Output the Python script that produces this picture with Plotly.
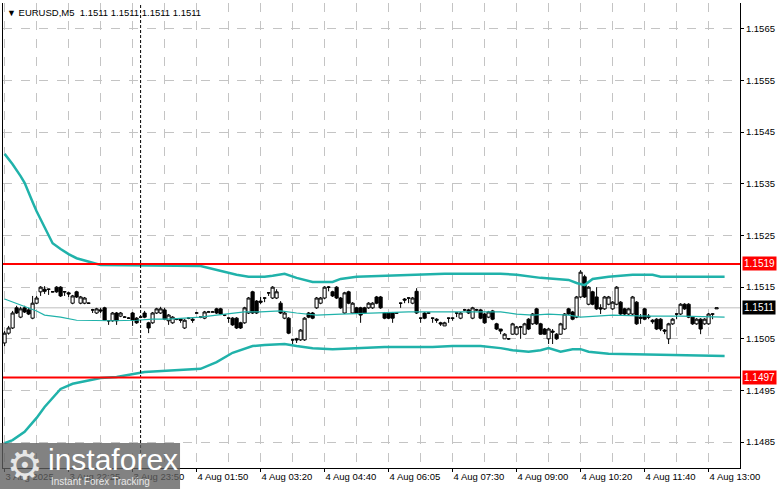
import plotly.graph_objects as go

# EURUSD M5 bars (one bar per 5 minutes)
bar_open = [
    1.15042, 1.15061, 1.15071, 1.15110, 1.15092, 1.15110, 1.15106, 1.15090, 1.15119, 1.15141,
    1.15146, 1.15146, 1.15141, 1.15150, 1.15150, 1.15141, 1.15139, 1.15119, 1.15141, 1.15119,
    1.15119, 1.15119, 1.15106, 1.15100, 1.15106, 1.15110, 1.15085, 1.15085, 1.15100, 1.15094,
    1.15092, 1.15090, 1.15100, 1.15090, 1.15092, 1.15100, 1.15081, 1.15081, 1.15100, 1.15100,
    1.15106, 1.15085, 1.15081, 1.15088, 1.15088, 1.15071, 1.15090, 1.15088, 1.15100, 1.15092,
    1.15090, 1.15102, 1.15102, 1.15108, 1.15108, 1.15096, 1.15090, 1.15090, 1.15090, 1.15081,
    1.15081, 1.15100, 1.15141, 1.15123, 1.15123, 1.15129, 1.15139, 1.15129, 1.15129, 1.15119,
    1.15090, 1.15090, 1.15048, 1.15050, 1.15048, 1.15048, 1.15100, 1.15100, 1.15110, 1.15119,
    1.15129, 1.15150, 1.15141, 1.15150, 1.15129, 1.15100, 1.15141, 1.15100, 1.15110, 1.15110,
    1.15110, 1.15110, 1.15110, 1.15131, 1.15131, 1.15100, 1.15100, 1.15100, 1.15100, 1.15119,
    1.15127, 1.15129, 1.15119, 1.15142, 1.15090, 1.15100, 1.15100, 1.15090, 1.15088, 1.15081,
    1.15075, 1.15090, 1.15090, 1.15100, 1.15090, 1.15106, 1.15106, 1.15090, 1.15106, 1.15106,
    1.15098, 1.15092, 1.15104, 1.15079, 1.15069, 1.15050, 1.15050, 1.15059, 1.15059, 1.15073,
    1.15059, 1.15088, 1.15079, 1.15108, 1.15079, 1.15069, 1.15050, 1.15065, 1.15059, 1.15059,
    1.15069, 1.15108, 1.15102, 1.15092, 1.15131, 1.15170, 1.15117, 1.15141, 1.15131, 1.15110,
    1.15108, 1.15117, 1.15108, 1.15117, 1.15121, 1.15108, 1.15098, 1.15098, 1.15121, 1.15092,
    1.15108, 1.15094, 1.15086, 1.15088, 1.15088, 1.15067, 1.15050, 1.15079, 1.15098, 1.15098,
    1.15117, 1.15117, 1.15092, 1.15079, 1.15088, 1.15079, 1.15079, 1.15098, 1.15108,
]
bar_high = [
    1.15065, 1.15075, 1.15104, 1.15114, 1.15112, 1.15114, 1.15110, 1.15133, 1.15133, 1.15152,
    1.15152, 1.15147, 1.15142, 1.15152, 1.15152, 1.15142, 1.15141, 1.15135, 1.15143, 1.15133,
    1.15131, 1.15120, 1.15108, 1.15110, 1.15110, 1.15112, 1.15086, 1.15102, 1.15102, 1.15102,
    1.15094, 1.15092, 1.15102, 1.15092, 1.15094, 1.15104, 1.15083, 1.15102, 1.15110, 1.15112,
    1.15110, 1.15098, 1.15094, 1.15090, 1.15090, 1.15088, 1.15092, 1.15090, 1.15102, 1.15092,
    1.15104, 1.15104, 1.15104, 1.15110, 1.15110, 1.15098, 1.15091, 1.15092, 1.15092, 1.15083,
    1.15112, 1.15131, 1.15143, 1.15125, 1.15131, 1.15130, 1.15140, 1.15152, 1.15146, 1.15123,
    1.15102, 1.15092, 1.15050, 1.15052, 1.15069, 1.15092, 1.15102, 1.15102, 1.15131, 1.15131,
    1.15152, 1.15152, 1.15143, 1.15152, 1.15131, 1.15141, 1.15143, 1.15121, 1.15112, 1.15112,
    1.15112, 1.15121, 1.15121, 1.15133, 1.15133, 1.15102, 1.15102, 1.15102, 1.15101, 1.15120,
    1.15129, 1.15130, 1.15131, 1.15148, 1.15091, 1.15102, 1.15101, 1.15091, 1.15090, 1.15083,
    1.15083, 1.15091, 1.15091, 1.15101, 1.15102, 1.15108, 1.15108, 1.15112, 1.15108, 1.15108,
    1.15100, 1.15104, 1.15106, 1.15081, 1.15069, 1.15061, 1.15050, 1.15081, 1.15075, 1.15075,
    1.15081, 1.15090, 1.15100, 1.15110, 1.15081, 1.15071, 1.15071, 1.15069, 1.15061, 1.15081,
    1.15100, 1.15110, 1.15104, 1.15133, 1.15183, 1.15174, 1.15152, 1.15143, 1.15150, 1.15117,
    1.15133, 1.15133, 1.15123, 1.15152, 1.15123, 1.15110, 1.15110, 1.15133, 1.15123, 1.15098,
    1.15110, 1.15098, 1.15088, 1.15090, 1.15090, 1.15069, 1.15081, 1.15090, 1.15099, 1.15119,
    1.15119, 1.15119, 1.15094, 1.15090, 1.15090, 1.15090, 1.15100, 1.15099, 1.15110,
]
bar_low = [
    1.15036, 1.15058, 1.15069, 1.15098, 1.15090, 1.15100, 1.15096, 1.15088, 1.15117, 1.15133,
    1.15137, 1.15135, 1.15140, 1.15139, 1.15131, 1.15133, 1.15131, 1.15117, 1.15129, 1.15117,
    1.15117, 1.15118, 1.15100, 1.15098, 1.15100, 1.15085, 1.15077, 1.15083, 1.15077, 1.15092,
    1.15092, 1.15090, 1.15075, 1.15079, 1.15090, 1.15090, 1.15061, 1.15079, 1.15098, 1.15098,
    1.15086, 1.15077, 1.15079, 1.15086, 1.15081, 1.15069, 1.15088, 1.15081, 1.15100, 1.15090,
    1.15088, 1.15102, 1.15102, 1.15098, 1.15096, 1.15094, 1.15081, 1.15075, 1.15069, 1.15069,
    1.15079, 1.15098, 1.15098, 1.15098, 1.15117, 1.15121, 1.15133, 1.15127, 1.15127, 1.15098,
    1.15088, 1.15059, 1.15040, 1.15042, 1.15046, 1.15046, 1.15090, 1.15088, 1.15108, 1.15117,
    1.15127, 1.15142, 1.15131, 1.15127, 1.15108, 1.15098, 1.15117, 1.15098, 1.15098, 1.15081,
    1.15098, 1.15108, 1.15108, 1.15117, 1.15108, 1.15088, 1.15088, 1.15081, 1.15099, 1.15110,
    1.15119, 1.15119, 1.15117, 1.15098, 1.15081, 1.15088, 1.15099, 1.15081, 1.15081, 1.15075,
    1.15075, 1.15081, 1.15085, 1.15092, 1.15088, 1.15104, 1.15098, 1.15088, 1.15104, 1.15088,
    1.15079, 1.15090, 1.15086, 1.15067, 1.15059, 1.15050, 1.15048, 1.15058, 1.15058, 1.15050,
    1.15058, 1.15067, 1.15077, 1.15077, 1.15058, 1.15058, 1.15040, 1.15040, 1.15048, 1.15058,
    1.15067, 1.15096, 1.15086, 1.15090, 1.15129, 1.15129, 1.15115, 1.15115, 1.15106, 1.15098,
    1.15106, 1.15115, 1.15106, 1.15115, 1.15096, 1.15096, 1.15096, 1.15096, 1.15077, 1.15079,
    1.15086, 1.15088, 1.15079, 1.15067, 1.15065, 1.15059, 1.15040, 1.15077, 1.15088, 1.15096,
    1.15106, 1.15090, 1.15077, 1.15077, 1.15059, 1.15077, 1.15077, 1.15088, 1.15108,
]
bar_close = [
    1.15061, 1.15071, 1.15100, 1.15100, 1.15108, 1.15102, 1.15098, 1.15119, 1.15129, 1.15150,
    1.15142, 1.15146, 1.15141, 1.15141, 1.15133, 1.15141, 1.15137, 1.15133, 1.15131, 1.15131,
    1.15129, 1.15119, 1.15106, 1.15108, 1.15104, 1.15086, 1.15085, 1.15100, 1.15085, 1.15100,
    1.15092, 1.15090, 1.15086, 1.15081, 1.15092, 1.15092, 1.15071, 1.15100, 1.15108, 1.15108,
    1.15088, 1.15096, 1.15092, 1.15088, 1.15086, 1.15086, 1.15090, 1.15086, 1.15100, 1.15092,
    1.15102, 1.15102, 1.15102, 1.15100, 1.15098, 1.15096, 1.15090, 1.15077, 1.15071, 1.15071,
    1.15110, 1.15129, 1.15100, 1.15100, 1.15121, 1.15129, 1.15139, 1.15150, 1.15141, 1.15100,
    1.15100, 1.15061, 1.15048, 1.15048, 1.15067, 1.15090, 1.15092, 1.15090, 1.15129, 1.15129,
    1.15150, 1.15150, 1.15133, 1.15129, 1.15110, 1.15139, 1.15119, 1.15119, 1.15100, 1.15096,
    1.15100, 1.15119, 1.15119, 1.15119, 1.15110, 1.15090, 1.15090, 1.15090, 1.15100, 1.15119,
    1.15125, 1.15129, 1.15129, 1.15100, 1.15090, 1.15090, 1.15100, 1.15090, 1.15086, 1.15079,
    1.15081, 1.15090, 1.15090, 1.15100, 1.15100, 1.15106, 1.15100, 1.15110, 1.15106, 1.15090,
    1.15081, 1.15102, 1.15088, 1.15069, 1.15065, 1.15059, 1.15050, 1.15079, 1.15073, 1.15073,
    1.15079, 1.15069, 1.15098, 1.15079, 1.15059, 1.15059, 1.15069, 1.15063, 1.15050, 1.15079,
    1.15098, 1.15098, 1.15088, 1.15131, 1.15179, 1.15131, 1.15150, 1.15117, 1.15108, 1.15108,
    1.15131, 1.15131, 1.15121, 1.15150, 1.15098, 1.15098, 1.15108, 1.15131, 1.15079, 1.15090,
    1.15088, 1.15092, 1.15083, 1.15069, 1.15069, 1.15065, 1.15079, 1.15088, 1.15098, 1.15117,
    1.15108, 1.15092, 1.15079, 1.15088, 1.15069, 1.15088, 1.15098, 1.15098, 1.15110,
]
bar_index = list(range(len(bar_close)))

# Bollinger band lines, sampled at bar positions
upper_idx = [0, 2, 4, 5, 7, 8, 10, 12, 14, 16, 18, 21, 24, 49, 53, 58, 61, 65, 67, 70,
             73, 77, 82, 84, 88, 95, 102, 110, 124, 128, 134, 141, 143, 145, 147, 151,
             157, 162, 164, 180]
upper_band = [1.15408, 1.15388, 1.15365, 1.15352, 1.15315, 1.15297, 1.15266, 1.15235,
              1.15224, 1.15214, 1.15206, 1.15199, 1.15193, 1.15191, 1.15183, 1.15174,
              1.15170, 1.15170, 1.15172, 1.15176, 1.15168, 1.15160, 1.15160, 1.15166,
              1.15170, 1.15172, 1.15174, 1.15176, 1.15176, 1.15174, 1.15168, 1.15164,
              1.15158, 1.15154, 1.15166, 1.15170, 1.15174, 1.15174, 1.15170, 1.15170]
mid_idx = [0, 2, 5, 8, 10, 14, 18, 22, 27, 33, 37, 41, 46, 49, 53, 57, 60, 64, 69, 73,
           78, 84, 92, 101, 109, 118, 124, 128, 132, 136, 141, 144, 147, 152, 161, 169, 180]
mid_band = [1.15127, 1.15121, 1.15112, 1.15104, 1.15096, 1.15092, 1.15086, 1.15085,
            1.15085, 1.15086, 1.15088, 1.15088, 1.15090, 1.15092, 1.15096, 1.15100,
            1.15102, 1.15102, 1.15104, 1.15100, 1.15096, 1.15098, 1.15100, 1.15102,
            1.15102, 1.15102, 1.15102, 1.15098, 1.15096, 1.15098, 1.15096, 1.15092,
            1.15094, 1.15096, 1.15094, 1.15094, 1.15092]
lower_idx = [0, 2, 5, 8, 10, 12, 14, 17, 21, 24, 28, 33, 35, 49, 53, 57, 62, 65, 70, 73,
             77, 82, 87, 95, 107, 112, 119, 124, 127, 131, 134, 136, 139, 142, 144, 146,
             151, 166, 174, 180]
lower_band = [1.14848, 1.14854, 1.14870, 1.14897, 1.14918, 1.14935, 1.14953, 1.14963,
              1.14970, 1.14974, 1.14976, 1.14984, 1.14986, 1.14992, 1.15005, 1.15023,
              1.15036, 1.15038, 1.15040, 1.15036, 1.15032, 1.15030, 1.15032, 1.15034,
              1.15034, 1.15036, 1.15036, 1.15032, 1.15028, 1.15025, 1.15028, 1.15032,
              1.15025, 1.15030, 1.15030, 1.15025, 1.15021, 1.15019, 1.15017, 1.15017]

# levels and axis labels
resistance = 1.15195
support = 1.14975
level_labels = ["1.1519", "1.1497"]
last_price = bar_close[-1]
separator_bar = 34
price_ticks = [1.1485, 1.1495, 1.1505, 1.1515, 1.1525, 1.1535, 1.1545, 1.1555, 1.1565]
time_ticks = [0, 16, 32, 48, 64, 80, 96, 112, 128, 144, 160, 176]
time_labels = ["3 Aug 2025", "3 Aug 22:25", "3 Aug 23:50", "4 Aug 01:50", "4 Aug 03:20",
               "4 Aug 04:40", "4 Aug 06:05", "4 Aug 07:30", "4 Aug 09:00", "4 Aug 10:20",
               "4 Aug 11:40", "4 Aug 13:00"]

FONT = "Liberation Sans"
TEAL = "#20B2AA"
GRID = "#C4C4C4"

fig = go.Figure()
fig.add_trace(go.Candlestick(
    x=bar_index, open=bar_open, high=bar_high, low=bar_low, close=bar_close,
    increasing=dict(line=dict(color="black", width=1), fillcolor="white"),
    decreasing=dict(line=dict(color="black", width=1), fillcolor="black"),
    whiskerwidth=0, hoverinfo="skip", showlegend=False,
))
fig.add_trace(go.Scatter(x=mid_idx, y=mid_band, mode="lines",
                         line=dict(color=TEAL, width=1.2), hoverinfo="skip", showlegend=False))
fig.add_trace(go.Scatter(x=upper_idx, y=upper_band, mode="lines",
                         line=dict(color=TEAL, width=2.5), hoverinfo="skip", showlegend=False))
fig.add_trace(go.Scatter(x=lower_idx, y=lower_band, mode="lines",
                         line=dict(color=TEAL, width=2.5), hoverinfo="skip", showlegend=False))

# bid line, day separator, support / resistance
fig.add_shape(type="line", xref="paper", x0=0, x1=1, yref="y", y0=last_price, y1=last_price,
              line=dict(color="#BEBEBE", width=1), layer="below")
fig.add_shape(type="line", xref="x", x0=separator_bar, x1=separator_bar, yref="paper", y0=0, y1=1,
              line=dict(color="black", width=1, dash="3px,2px"))
for lvl in (resistance, support):
    fig.add_shape(type="line", xref="paper", x0=0, x1=1, yref="y", y0=lvl, y1=lvl,
                  line=dict(color="#FF0000", width=2))

annotations = []
for lvl, txt in zip((resistance, support), level_labels):
    annotations.append(dict(xref="paper", x=1, xshift=2, xanchor="left", yref="y", y=lvl,
                            text=txt, showarrow=False, bgcolor="#FF0000", borderpad=1,
                            font=dict(family=FONT, size=10, color="white")))
annotations.append(dict(xref="paper", x=1, xshift=2, xanchor="left", yref="y", y=last_price,
                        text=f"{last_price:.4f}", showarrow=False, bgcolor="black", borderpad=1,
                        font=dict(family=FONT, size=10, color="white")))
annotations.append(dict(
    xref="paper", x=0, xanchor="left", yref="paper", y=1, yanchor="top", xshift=2, yshift=-2,
    text="<span style='font-size:9px'>▼</span> EURUSD,M5  " + " ".join([f"{last_price:.4f}"] * 4),
    showarrow=False, font=dict(family=FONT, size=9.5, color="black")))

# watermark
fig.add_shape(type="rect", xref="paper", yref="paper", x0=-0.0041, x1=0.2402, y0=-0.0452, y1=0.0538,
              fillcolor="rgba(95,95,95,0.78)", line=dict(width=0), layer="above")
annotations.append(dict(xref="paper", yref="paper", x=0.0299, y=0.0065, xanchor="center",
                        yanchor="middle", text="⚙", showarrow=False,
                        font=dict(family="DejaVu Sans", size=40, color="#E6E6E6")))
annotations.append(dict(xref="paper", yref="paper", x=0.058, y=0.019, xanchor="left",
                        yanchor="middle", text="instaforex", showarrow=False,
                        font=dict(family=FONT, size=30, color="white")))
annotations.append(dict(xref="paper", yref="paper", x=0.062, y=-0.028, xanchor="left",
                        yanchor="middle", text="Instant Forex Tracking", showarrow=False,
                        font=dict(family=FONT, size=10, color="#E8E8E8")))

fig.update_layout(
    width=781, height=489,
    margin=dict(l=3, r=41, t=3, b=21, autoexpand=False),
    paper_bgcolor="white", plot_bgcolor="white",
    boxgap=0.12, boxgroupgap=0.1,
    font=dict(family=FONT, size=9.5, color="black"),
    annotations=annotations,
    showlegend=False,
)
fig.update_xaxes(
    range=[-0.4, 183.85], rangeslider=dict(visible=False),
    tickmode="array", tickvals=time_ticks, ticktext=time_labels,
    ticklabelposition="outside right", ticks="outside", ticklen=3, tickcolor="black",
    showgrid=True, gridcolor=GRID, griddash="dash", gridwidth=1,
    minor=dict(tickmode="linear", tick0=0, dtick=8, showgrid=True, gridcolor=GRID,
               griddash="dash", ticks=""),
    showline=True, linecolor="black", linewidth=1, zeroline=False, automargin=False,
    tickfont=dict(family=FONT, size=9.5, color="black"),
)
fig.update_yaxes(
    range=[1.1480, 1.1570], side="right",
    tickmode="array", tickvals=price_ticks, ticktext=[f"{p:.4f}" for p in price_ticks],
    ticks="outside", ticklen=3, tickcolor="black",
    showgrid=True, gridcolor=GRID, griddash="dash", gridwidth=1,
    showline=True, mirror=True, linecolor="black", linewidth=1, zeroline=False, automargin=False,
    tickfont=dict(family=FONT, size=9.5, color="black"),
)

# the page would otherwise add the browser's default 8px body margin
fig.write_html("out.html", config={"displayModeBar": False},
               post_script="document.body.style.margin='0';"
               "document.body.style.overflow='hidden';")
